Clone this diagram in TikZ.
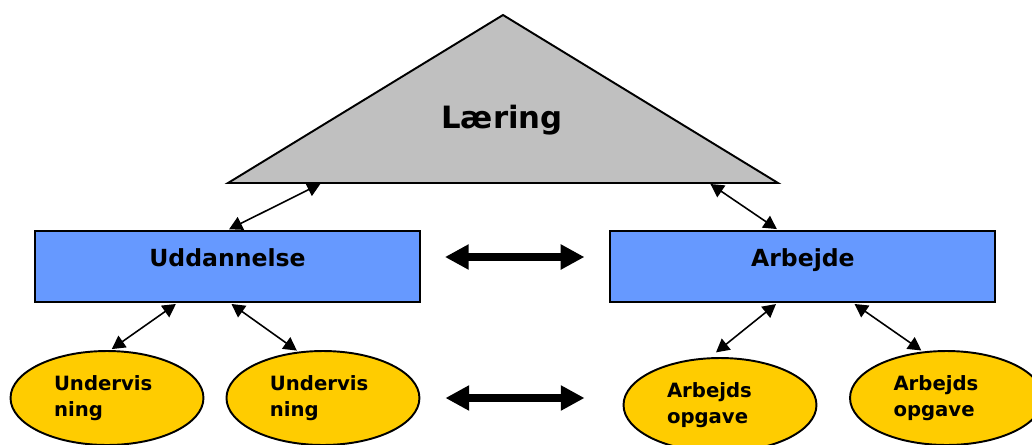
\documentclass[tikz,border=0pt]{standalone}
\usepackage{fontspec}
\setmainfont{DejaVu Sans}
\usetikzlibrary{arrows.meta,positioning,shapes.geometric}
\definecolor{trigray}{HTML}{C0C0C0}
\definecolor{boxblue}{HTML}{6699FF}
\definecolor{ovalyellow}{HTML}{FFCC00}

\begin{document}
\begin{tikzpicture}[x=0.02cm,y=-0.02cm]
\tikzstyle{box}=[draw,line width=1.1pt,fill=boxblue,minimum width=7.7cm,minimum height=1.42cm,text depth=0.34cm,font=\fontsize{13.4}{16}\selectfont\bfseries]
\tikzstyle{oval}=[ellipse,draw,line width=1.1pt,fill=ovalyellow,minimum width=3.86cm,minimum height=1.88cm,inner sep=0pt,text width=2.12cm,align=left,font=\fontsize{11.2}{14.7}\selectfont\bfseries]
\tikzstyle{thinarr}=[{Triangle[length=7.5pt,width=8pt]}-{Triangle[length=7.5pt,width=8pt]},line width=0.9pt,shorten >=1pt,shorten <=1pt]
\tikzstyle{bigarr}=[{Triangle[length=13.5pt,width=13.5pt]}-{Triangle[length=13.5pt,width=13.5pt]},line width=4.2pt]

\clip (0,0) rectangle (1032,444);

% triangle
\draw[fill=trigray,line width=1.1pt] (228,183) -- (503,15) -- (778,183) -- cycle;
\node (L) at (502,120) {\fontsize{17.5}{20}\selectfont\bfseries Læring};
\coordinate (Ll) at (322,183);
\coordinate (Lr) at (709,183);

% boxes
\node[box]  (U) at (227.5,266.5) {Uddannelse};
\node[box]  (A) [right of=U,node distance=11.51cm] {Arbejde};

% ovals
\node[oval] (U1) at (107,398) {Undervis\\ning};
\node[oval] (U2) [right of=U1,node distance=4.32cm] {Undervis\\ning};
\node[oval] (A1) at (720,405) {Arbejds\\opgave};
\node[oval] (A2) at (946.5,398) {Arbejds\\opgave};

\draw[thinarr] (Ll) -- (U.north);
\draw[thinarr] (Lr) -- (A.124);
\draw[thinarr] (U.216) -- (U1.86);
\draw[thinarr] (U.-86) -- (U2.118);
\draw[thinarr,shorten >=4.5pt] (A.235) -- (A1.102);
\draw[thinarr] (A.-36) -- (A2.117);

\draw[bigarr,shorten <=0.48cm,shorten >=0.5cm] ([yshift=0.19cm]U.east) -- ([yshift=0.19cm]A.west);
\draw[bigarr,shorten <=0.5cm,shorten >=0.76cm] (U2.east) -- (U2.east -| A1.west);

\end{tikzpicture}
\end{document}
